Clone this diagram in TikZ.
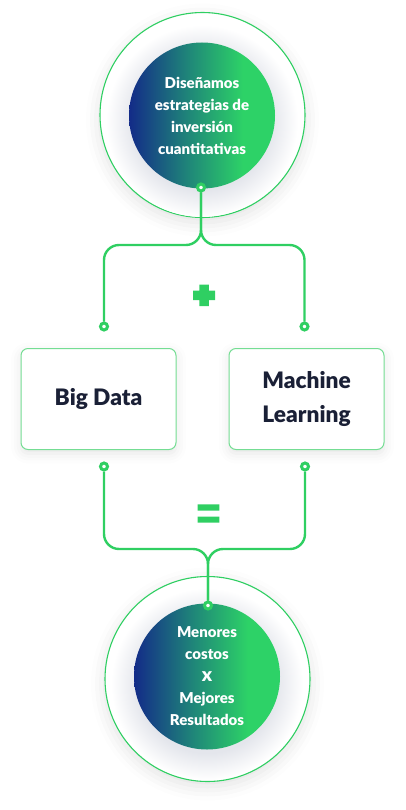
\documentclass[tikz,border=0pt]{standalone}
\usepackage{fontspec}
\setmainfont{Lato}[BoldFont={Lato Black}]
\usetikzlibrary{shadows.blur}

\definecolor{linegreen}{HTML}{2FCF62}
\definecolor{cardgreen}{HTML}{74DD93}
\definecolor{gradblue}{HTML}{132B88}
\definecolor{gradteal}{HTML}{1F8579}
\definecolor{gradgreen}{HTML}{2DD267}
\definecolor{inkblue}{HTML}{1A2036}
\definecolor{halogray}{HTML}{E4E6EC}

\pgfdeclarehorizontalshading{bubbleshade}{100bp}{color(0bp)=(gradblue); color(25bp)=(gradblue); color(45bp)=(gradteal); color(64bp)=(gradgreen); color(100bp)=(gradgreen)}
\pgfdeclareradialshading{bubblehalo}{\pgfpointorigin}{color(0bp)=(halogray); color(18bp)=(halogray); color(25bp)=(white); color(50bp)=(white)}

\tikzset{
  ring/.style={circle, draw=linegreen, line width=1.1pt, fill=white, minimum size=205pt, inner sep=0pt,
    blur shadow={shadow xshift=0pt, shadow yshift=-5pt, shadow blur radius=14pt, shadow opacity=12}},
  bubble/.style={circle, minimum size=146pt, inner sep=0pt, shading=bubbleshade, text=white, align=center,
    font=\bfseries\fontsize{15}{22}\selectfont},
  halo/.style={shading=bubblehalo},
  card/.style={rectangle, rounded corners=7pt, draw=cardgreen, line width=1pt, fill=white,
    minimum width=155pt, minimum height=101pt, text=inkblue, align=center,
    font=\bfseries\fontsize{22.7}{34}\selectfont,
    blur shadow={shadow xshift=0pt, shadow yshift=-4pt, shadow blur radius=10pt, shadow opacity=10}},
  dot/.style={circle, draw=linegreen, fill=white, line width=3pt, minimum size=7pt, inner sep=0pt},
  link/.style={draw=linegreen, line width=2.4pt, rounded corners=15pt},
}

\begin{document}
\begin{tikzpicture}[x=1pt, y=-1pt]
  \useasboundingbox (0,0) rectangle (405,810);

  % Top circle
  \node[ring] (topring) at (202.5,115) {};
  \shade[halo] (202,121) circle (96pt);
  \node[bubble] (strategy) at (202,115.5) {Diseñamos\\estrategias de\\inversión\\cuantitativas};

  % Cards
  \node[card] (bigdata) at (98.5,399) {Big Data};
  \node[card] (machine) at (306.5,399) {Machine\\Learning};

  % Bottom circle
  \node[ring] (botring) at (207.5,679) {};
  \shade[halo] (207,684) circle (96pt);
  \node[bubble] (results) at (207,676.5) {Menores\\costos\\{\fontsize{19}{22}\selectfont x}\\Mejores\\Resultados};

  % Dots
  \node[dot] (topdot) at (201,187.5) {};
  \node[dot] (bigin) at (104,326.5) {};
  \node[dot] (mlin) at (304.5,326.5) {};
  \node[dot] (bigout) at (104,466.5) {};
  \node[dot] (mlout) at (305,466.5) {};
  \node[dot] (botdot) at (208,605.5) {};
  \coordinate (split) at (201,245);
  \coordinate (join) at (208,549);

  % Connectors
  \draw[link] (topdot) -- (split) -| (bigin);
  \draw[link] (topdot) -- (split) -| (mlin);
  \draw[link] (bigout) |- (join) -- (botdot);
  \draw[link] (mlout) |- (join) -- (botdot);

  % Plus and equals signs
  \fill[linegreen] (193,290.5) rectangle (215,300) (199.3,284.5) rectangle (208.8,306);
  \fill[linegreen] (197.7,504.3) rectangle (219.3,510.7) (197.7,516.7) rectangle (219.3,522.7);
\end{tikzpicture}
\end{document}
